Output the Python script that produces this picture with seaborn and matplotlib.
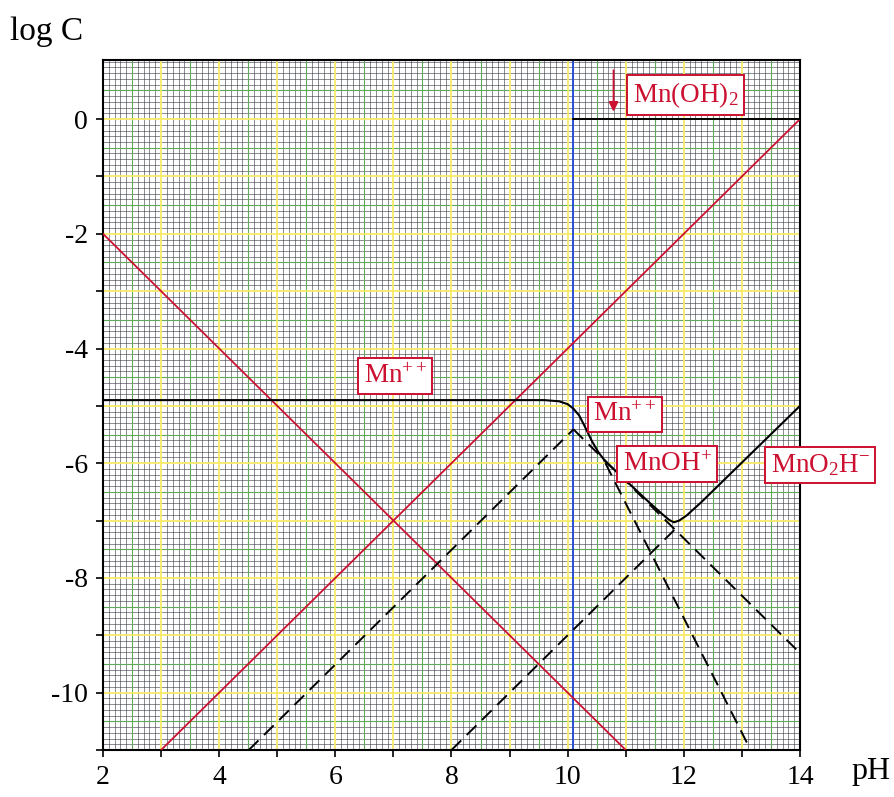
import numpy as np
import pandas as pd
import matplotlib
matplotlib.use("Agg")
import matplotlib.pyplot as plt
import seaborn as sns

# ---------------- data ----------------
ph_h = [2.0, 11.0]            # log[H+] = -pH
logc_h = [-2.0, -11.0]
ph_oh = [3.0, 14.0]           # log[OH-]
logc_oh = [-11.0, 0.0]

ph_total = [2.0, 9.6, 9.85, 10.0, 10.1, 10.2, 10.3, 10.42, 10.53, 10.65,
            11.0, 11.4, 11.62, 11.75, 11.83, 11.92, 12.05, 12.3, 14.0]
logc_total = [-4.9, -4.9, -4.92, -4.97, -5.05, -5.17, -5.37, -5.62, -5.81, -5.97,
              -6.3, -6.68, -6.88, -6.99, -7.03, -7.0, -6.91, -6.68, -5.0]

ph_mnoh_rise = [4.51, 10.1]
logc_mnoh_rise = [-11.0, -5.41]
ph_mnoh_fall = [10.1, 14.0]
logc_mnoh_fall = [-5.41, -9.31]
ph_mn_fall = [10.65, 13.15]
logc_mn_fall = [-6.0, -11.0]
ph_mno2h = [8.0, 11.9]
logc_mno2h = [-11.0, -7.1]
ph_precip = [10.1, 14.0]
logc_precip = [0.0, 0.0]
ph_boundary = 10.1

x_ticks = [2, 3, 4, 5, 6, 7, 8, 9, 10, 11, 12, 13, 14]
x_ticklabels = ["2", "", "4", "", "6", "", "8", "", "10", "", "12", "", "14"]
y_ticks = [-11, -10, -9, -8, -7, -6, -5, -4, -3, -2, -1, 0]
y_ticklabels = ["", "-10", "", "-8", "", "-6", "", "-4", "", "-2", "", "0"]

labels = [r"Mn(OH)$_2$", r"Mn$^{++}$", r"Mn$^{++}$", r"MnOH$^{+}$", r"MnO$_2$H$^{-}$"]
label_ph = [12.03, 7.03, 10.98, 11.71, 14.35]
label_logc = [0.42, -4.48, -5.15, -6.02, -6.03]

# ---------------- style ----------------
sns.set_theme(style="white")
plt.rcParams["font.family"] = ["Liberation Serif", "DejaVu Serif"]
plt.rcParams["mathtext.fontset"] = "custom"
plt.rcParams["mathtext.rm"] = "Liberation Serif"
plt.rcParams["mathtext.it"] = "Liberation Serif:italic"
plt.rcParams["mathtext.bf"] = "Liberation Serif:bold"

RED = "#cc1030"
BLUE = "#2a4fd6"

fig = plt.figure(figsize=(8.94, 7.97), dpi=100)
ax = fig.add_axes([103 / 894, 1 - 750 / 797, 697 / 894, 690 / 797])
ax.set_xlim(2, 14)
ax.set_ylim(-11, 1.03)

# fine grid (0.1 units)
ax.set_xticks(np.arange(2, 14.001, 0.1), minor=True)
ax.set_yticks(np.arange(-11, 1.03, 0.1), minor=True)
ax.grid(which="minor", color="#343442", lw=0.5, alpha=0.8)
ax.set_axisbelow(True)
for v in np.arange(2.5, 14, 1.0):
    ax.axvline(v, color="#62a85a", lw=0.8, zorder=1)
for v in np.arange(-10.5, 1, 1.0):
    ax.axhline(v, color="#62a85a", lw=0.8, zorder=1)
for v in range(3, 14):
    ax.axvline(v, color="#f7ea6a", lw=1.3, zorder=1.1)
for v in range(-10, 1):
    ax.axhline(v, color="#f7ea6a", lw=1.3, zorder=1.1)

ax.axvline(ph_boundary, color=BLUE, lw=1.4, zorder=2.5)

def line(x, y, color, ls="-", lw=1.4, z=3):
    sns.lineplot(x=x, y=y, ax=ax, color=color, lw=lw, linestyle=ls,
                 zorder=z, legend=False, estimator=None, sort=False)

dash = (0, (7, 4))
line(ph_h, logc_h, RED, lw=1.3)
line(ph_oh, logc_oh, RED, lw=1.3)
line(ph_mnoh_rise, logc_mnoh_rise, "black", ls=dash)
line(ph_mnoh_fall, logc_mnoh_fall, "black", ls=dash)
line(ph_mn_fall, logc_mn_fall, "black", ls=dash)
line(ph_mno2h, logc_mno2h, "black", ls=dash)
line(ph_total, logc_total, "black", lw=1.5, z=4)
line(ph_precip, logc_precip, "black", lw=1.4)

# arrow to the Mn(OH)2 boundary
ax.annotate("", xy=(10.79, 0.08), xytext=(10.79, 0.9),
            arrowprops=dict(arrowstyle="-|>", color=RED, lw=1.3,
                            mutation_scale=14), zorder=5)

for t, x, y in zip(labels, label_ph, label_logc):
    ax.text(x, y, t, color=RED, fontsize=19.5, ha="center", va="center",
            zorder=6, clip_on=False,
            bbox=dict(boxstyle="square,pad=0.2", fc="white", ec=RED, lw=1.4))

ax.set_xticks(x_ticks)
ax.set_xticklabels(x_ticklabels)
ax.set_yticks(y_ticks)
ax.set_yticklabels(y_ticklabels)
ax.tick_params(which="major", direction="out", length=5, width=1.2,
               labelsize=20, color="black", labelcolor="black", pad=6,
               bottom=True, left=True)
ax.tick_params(which="minor", length=0)
for s in ax.spines.values():
    s.set_color("black")
    s.set_linewidth(1.5)

ax.set_xlabel("")
ax.set_ylabel("")
fig.text(10 / 894, 1 - 32 / 797, "log C", fontsize=24, color="black", ha="left", va="center")
fig.text(871 / 894, 1 - 772 / 797, "pH", fontsize=23, color="black", ha="center", va="center")

fig.savefig("out.png", dpi=100)
